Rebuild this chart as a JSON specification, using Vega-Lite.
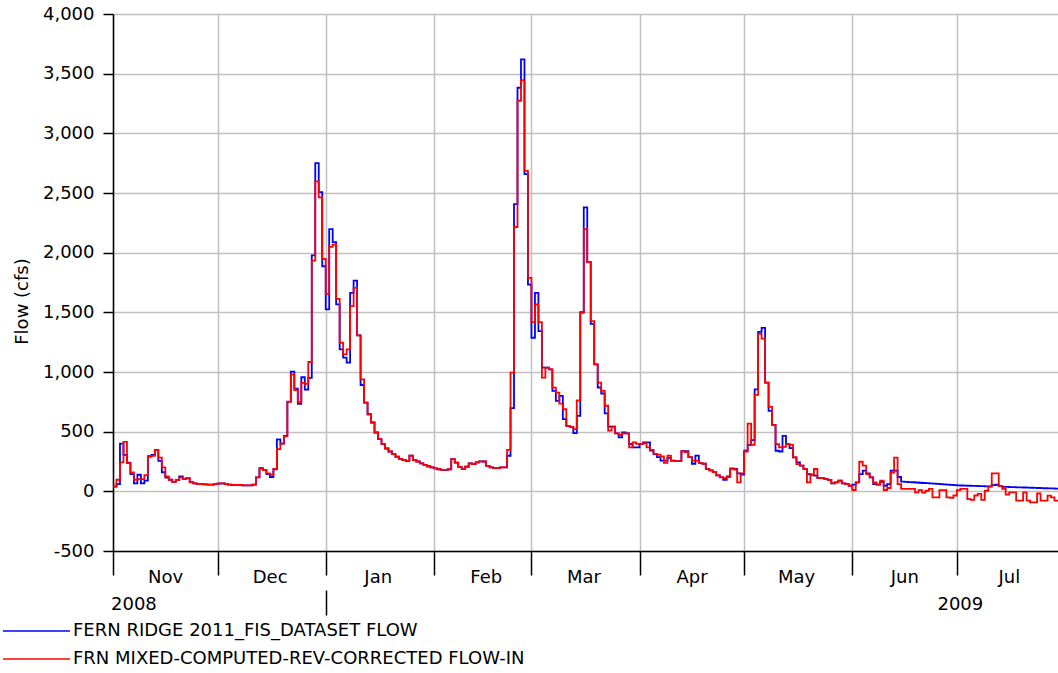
{
"width": 945, "height": 537,
"autosize": {"type": "none"},
"padding": {"left": 113, "top": 14, "right": 0, "bottom": 122},
"background": "white",
"config": {"view": {"stroke": null}, "font": "DejaVu Sans"},
"layer": [
{
"data": {"format": {"parse": {"d": "date:'%Y-%m-%d'"}}, "values": [
{"d":"2008-11-01","b":40,"r":42},{"d":"2008-11-02","b":60,"r":97},{"d":"2008-11-03","b":400,"r":242},{"d":"2008-11-04","b":305,"r":414},{"d":"2008-11-05","b":240,"r":236},{"d":"2008-11-06","b":145,"r":158},{"d":"2008-11-07","b":67,"r":97},{"d":"2008-11-08","b":139,"r":103},{"d":"2008-11-09","b":67,"r":103},{"d":"2008-11-10","b":89,"r":136},
{"d":"2008-11-11","b":295,"r":289},{"d":"2008-11-12","b":305,"r":297},{"d":"2008-11-13","b":347,"r":347},{"d":"2008-11-14","b":255,"r":283},{"d":"2008-11-15","b":160,"r":200},{"d":"2008-11-16","b":115,"r":125},{"d":"2008-11-17","b":97,"r":97},{"d":"2008-11-18","b":80,"r":80},{"d":"2008-11-19","b":95,"r":95},{"d":"2008-11-20","b":125,"r":117},
{"d":"2008-11-21","b":105,"r":103},{"d":"2008-11-22","b":110,"r":108},{"d":"2008-11-23","b":78,"r":75},{"d":"2008-11-24","b":67,"r":67},{"d":"2008-11-25","b":61,"r":61},{"d":"2008-11-26","b":61,"r":61},{"d":"2008-11-27","b":58,"r":58},{"d":"2008-11-28","b":56,"r":56},{"d":"2008-11-29","b":56,"r":56},{"d":"2008-11-30","b":61,"r":61},
{"d":"2008-12-01","b":65,"r":67},{"d":"2008-12-02","b":67,"r":67},{"d":"2008-12-03","b":61,"r":61},{"d":"2008-12-04","b":56,"r":56},{"d":"2008-12-05","b":53,"r":53},{"d":"2008-12-06","b":53,"r":53},{"d":"2008-12-07","b":53,"r":53},{"d":"2008-12-08","b":50,"r":50},{"d":"2008-12-09","b":50,"r":50},{"d":"2008-12-10","b":50,"r":50},
{"d":"2008-12-11","b":56,"r":56},{"d":"2008-12-12","b":117,"r":117},{"d":"2008-12-13","b":195,"r":190},{"d":"2008-12-14","b":178,"r":178},{"d":"2008-12-15","b":145,"r":150},{"d":"2008-12-16","b":120,"r":139},{"d":"2008-12-17","b":185,"r":189},{"d":"2008-12-18","b":436,"r":353},{"d":"2008-12-19","b":400,"r":400},{"d":"2008-12-20","b":465,"r":461},
{"d":"2008-12-21","b":752,"r":750},{"d":"2008-12-22","b":1003,"r":978},{"d":"2008-12-23","b":860,"r":848},{"d":"2008-12-24","b":734,"r":748},{"d":"2008-12-25","b":956,"r":909},{"d":"2008-12-26","b":853,"r":900},{"d":"2008-12-27","b":950,"r":1084},{"d":"2008-12-28","b":1978,"r":1934},{"d":"2008-12-29","b":2750,"r":2597},{"d":"2008-12-30","b":2507,"r":2463},
{"d":"2008-12-31","b":1886,"r":1947},{"d":"2009-01-01","b":1524,"r":1655},{"d":"2009-01-02","b":2198,"r":2048},{"d":"2009-01-03","b":2089,"r":2067},{"d":"2009-01-04","b":1566,"r":1613},{"d":"2009-01-05","b":1190,"r":1245},{"d":"2009-01-06","b":1120,"r":1148},{"d":"2009-01-07","b":1078,"r":1190},{"d":"2009-01-08","b":1663,"r":1552},{"d":"2009-01-09","b":1766,"r":1705},
{"d":"2009-01-10","b":1307,"r":1307},{"d":"2009-01-11","b":891,"r":939},{"d":"2009-01-12","b":744,"r":744},{"d":"2009-01-13","b":646,"r":646},{"d":"2009-01-14","b":577,"r":577},{"d":"2009-01-15","b":493,"r":493},{"d":"2009-01-16","b":437,"r":437},{"d":"2009-01-17","b":396,"r":396},{"d":"2009-01-18","b":359,"r":359},{"d":"2009-01-19","b":334,"r":334},
{"d":"2009-01-20","b":312,"r":312},{"d":"2009-01-21","b":290,"r":290},{"d":"2009-01-22","b":270,"r":270},{"d":"2009-01-23","b":262,"r":262},{"d":"2009-01-24","b":256,"r":256},{"d":"2009-01-25","b":300,"r":300},{"d":"2009-01-26","b":262,"r":262},{"d":"2009-01-27","b":250,"r":250},{"d":"2009-01-28","b":235,"r":235},{"d":"2009-01-29","b":222,"r":222},
{"d":"2009-01-30","b":210,"r":210},{"d":"2009-01-31","b":200,"r":200},{"d":"2009-02-01","b":192,"r":192},{"d":"2009-02-02","b":185,"r":185},{"d":"2009-02-03","b":180,"r":180},{"d":"2009-02-04","b":180,"r":180},{"d":"2009-02-05","b":185,"r":185},{"d":"2009-02-06","b":270,"r":270},{"d":"2009-02-07","b":240,"r":240},{"d":"2009-02-08","b":205,"r":205},
{"d":"2009-02-09","b":187,"r":187},{"d":"2009-02-10","b":206,"r":206},{"d":"2009-02-11","b":234,"r":234},{"d":"2009-02-12","b":228,"r":228},{"d":"2009-02-13","b":242,"r":242},{"d":"2009-02-14","b":251,"r":251},{"d":"2009-02-15","b":250,"r":250},{"d":"2009-02-16","b":214,"r":214},{"d":"2009-02-17","b":200,"r":200},{"d":"2009-02-18","b":195,"r":195},
{"d":"2009-02-19","b":195,"r":195},{"d":"2009-02-20","b":200,"r":200},{"d":"2009-02-21","b":200,"r":200},{"d":"2009-02-22","b":298,"r":348},{"d":"2009-02-23","b":697,"r":995},{"d":"2009-02-24","b":2407,"r":2215},{"d":"2009-02-25","b":3382,"r":3273},{"d":"2009-02-26","b":3619,"r":3446},{"d":"2009-02-27","b":2658,"r":2686},{"d":"2009-02-28","b":1733,"r":1789},
{"d":"2009-03-01","b":1287,"r":1418},{"d":"2009-03-02","b":1663,"r":1566},{"d":"2009-03-03","b":1343,"r":1418},{"d":"2009-03-04","b":1036,"r":953},{"d":"2009-03-05","b":1036,"r":1036},{"d":"2009-03-06","b":1022,"r":1022},{"d":"2009-03-07","b":841,"r":869},{"d":"2009-03-08","b":758,"r":827},{"d":"2009-03-09","b":800,"r":735},{"d":"2009-03-10","b":605,"r":688},
{"d":"2009-03-11","b":549,"r":549},{"d":"2009-03-12","b":540,"r":540},{"d":"2009-03-13","b":488,"r":521},{"d":"2009-03-14","b":632,"r":763},{"d":"2009-03-15","b":1502,"r":1496},{"d":"2009-03-16","b":2379,"r":2198},{"d":"2009-03-17","b":1922,"r":1922},{"d":"2009-03-18","b":1404,"r":1426},{"d":"2009-03-19","b":1064,"r":1064},{"d":"2009-03-20","b":870,"r":911},
{"d":"2009-03-21","b":820,"r":842},{"d":"2009-03-22","b":653,"r":717},{"d":"2009-03-23","b":542,"r":508},{"d":"2009-03-24","b":542,"r":542},{"d":"2009-03-25","b":486,"r":486},{"d":"2009-03-26","b":453,"r":472},{"d":"2009-03-27","b":494,"r":486},{"d":"2009-03-28","b":486,"r":486},{"d":"2009-03-29","b":397,"r":369},{"d":"2009-03-30","b":369,"r":411},
{"d":"2009-03-31","b":369,"r":397},{"d":"2009-04-01","b":397,"r":397},{"d":"2009-04-02","b":411,"r":403},{"d":"2009-04-03","b":411,"r":369},{"d":"2009-04-04","b":342,"r":347},{"d":"2009-04-05","b":314,"r":314},{"d":"2009-04-06","b":286,"r":308},{"d":"2009-04-07","b":258,"r":292},{"d":"2009-04-08","b":258,"r":239},{"d":"2009-04-09","b":280,"r":300},
{"d":"2009-04-10","b":258,"r":258},{"d":"2009-04-11","b":253,"r":253},{"d":"2009-04-12","b":253,"r":253},{"d":"2009-04-13","b":336,"r":336},{"d":"2009-04-14","b":336,"r":328},{"d":"2009-04-15","b":286,"r":286},{"d":"2009-04-16","b":231,"r":258},{"d":"2009-04-17","b":300,"r":258},{"d":"2009-04-18","b":236,"r":236},{"d":"2009-04-19","b":231,"r":231},
{"d":"2009-04-20","b":189,"r":189},{"d":"2009-04-21","b":175,"r":175},{"d":"2009-04-22","b":161,"r":161},{"d":"2009-04-23","b":133,"r":133},{"d":"2009-04-24","b":117,"r":119},{"d":"2009-04-25","b":97,"r":111},{"d":"2009-04-26","b":125,"r":119},{"d":"2009-04-27","b":192,"r":189},{"d":"2009-04-28","b":187,"r":183},{"d":"2009-04-29","b":150,"r":75},
{"d":"2009-04-30","b":140,"r":150},{"d":"2009-05-01","b":340,"r":334},{"d":"2009-05-02","b":390,"r":568},{"d":"2009-05-03","b":429,"r":390},{"d":"2009-05-04","b":855,"r":808},{"d":"2009-05-05","b":1337,"r":1320},{"d":"2009-05-06","b":1370,"r":1279},{"d":"2009-05-07","b":911,"r":911},{"d":"2009-05-08","b":674,"r":708},{"d":"2009-05-09","b":557,"r":557},
{"d":"2009-05-10","b":340,"r":396},{"d":"2009-05-11","b":334,"r":368},{"d":"2009-05-12","b":465,"r":373},{"d":"2009-05-13","b":396,"r":396},{"d":"2009-05-14","b":362,"r":390},{"d":"2009-05-15","b":284,"r":284},{"d":"2009-05-16","b":242,"r":228},{"d":"2009-05-17","b":215,"r":215},{"d":"2009-05-18","b":187,"r":187},{"d":"2009-05-19","b":145,"r":75},
{"d":"2009-05-20","b":139,"r":139},{"d":"2009-05-21","b":131,"r":187},{"d":"2009-05-22","b":111,"r":111},{"d":"2009-05-23","b":111,"r":111},{"d":"2009-05-24","b":103,"r":103},{"d":"2009-05-25","b":95,"r":95},{"d":"2009-05-26","b":67,"r":67},{"d":"2009-05-27","b":75,"r":75},{"d":"2009-05-28","b":89,"r":89},{"d":"2009-05-29","b":67,"r":67},
{"d":"2009-05-30","b":61,"r":61},{"d":"2009-05-31","b":47,"r":47},{"d":"2009-06-01","b":56,"r":11},{"d":"2009-06-02","b":75,"r":75},{"d":"2009-06-03","b":145,"r":248},{"d":"2009-06-04","b":173,"r":215},{"d":"2009-06-05","b":150,"r":145},{"d":"2009-06-06","b":117,"r":117},{"d":"2009-06-07","b":61,"r":75},{"d":"2009-06-08","b":56,"r":56},
{"d":"2009-06-09","b":80,"r":89},{"d":"2009-06-10","b":47,"r":11},{"d":"2009-06-11","b":60,"r":28},{"d":"2009-06-12","b":173,"r":158},{"d":"2009-06-13","b":173,"r":283},{"d":"2009-06-14","b":120,"r":60},{"d":"2009-06-15","b":82,"r":20},{"d":"2009-06-16","b":80,"r":20},{"d":"2009-06-17","b":78,"r":20},{"d":"2009-06-18","b":76,"r":20},
{"d":"2009-06-19","b":74,"r":-8},{"d":"2009-06-20","b":72,"r":10},{"d":"2009-06-21","b":70,"r":-10},{"d":"2009-06-22","b":68,"r":5},{"d":"2009-06-23","b":66,"r":20},{"d":"2009-06-24","b":64,"r":-50},{"d":"2009-06-25","b":62,"r":-50},{"d":"2009-06-26","b":60,"r":10},{"d":"2009-06-27","b":58,"r":10},{"d":"2009-06-28","b":56,"r":-50},
{"d":"2009-06-29","b":54,"r":-55},{"d":"2009-06-30","b":52,"r":-35},{"d":"2009-07-01","b":50,"r":10},{"d":"2009-07-02","b":49,"r":20},{"d":"2009-07-03","b":48,"r":20},{"d":"2009-07-04","b":47,"r":-65},{"d":"2009-07-05","b":46,"r":-72},{"d":"2009-07-06","b":45,"r":-35},{"d":"2009-07-07","b":44,"r":-22},{"d":"2009-07-08","b":43,"r":-72},
{"d":"2009-07-09","b":42,"r":5},{"d":"2009-07-10","b":41,"r":40},{"d":"2009-07-11","b":52,"r":150},{"d":"2009-07-12","b":55,"r":150},{"d":"2009-07-13","b":45,"r":45},{"d":"2009-07-14","b":38,"r":20},{"d":"2009-07-15","b":37,"r":-28},{"d":"2009-07-16","b":36,"r":-8},{"d":"2009-07-17","b":35,"r":-8},{"d":"2009-07-18","b":34,"r":-78},
{"d":"2009-07-19","b":33,"r":-78},{"d":"2009-07-20","b":32,"r":-8},{"d":"2009-07-21","b":31,"r":-78},{"d":"2009-07-22","b":30,"r":-92},{"d":"2009-07-23","b":29,"r":-92},{"d":"2009-07-24","b":28,"r":-18},{"d":"2009-07-25","b":27,"r":-78},{"d":"2009-07-26","b":26,"r":-78},{"d":"2009-07-27","b":25,"r":-36},{"d":"2009-07-28","b":24,"r":-50},
{"d":"2009-07-29","b":23,"r":-78},{"d":"2009-07-30","b":23,"r":-78}
]},
"transform": [{"fold": ["b", "r"], "as": ["series", "flow"]}],
"mark": {"type": "line", "interpolate": "step-after", "strokeWidth": 1.8},
"encoding": {
"x": {"field": "d", "type": "temporal",
 "scale": {"domain": [{"year": 2008, "month": 11, "date": 1}, {"year": 2009, "month": 7, "date": 30}]},
 "axis": {"title": null, "orient": "bottom",
  "values": [{"year":2008,"month":11,"date":1},{"year":2008,"month":12,"date":1},{"year":2009,"month":1,"date":1},{"year":2009,"month":2,"date":1},{"year":2009,"month":3,"date":1},{"year":2009,"month":4,"date":1},{"year":2009,"month":5,"date":1},{"year":2009,"month":6,"date":1},{"year":2009,"month":7,"date":1}],
  "format": "%b", "labelAlign": "center", "labelOffset": 52, "labelPadding": -7, "labelBaseline": "top",
  "labelFontSize": 18, "labelFont": "DejaVu Sans", "labelColor": "black", "labelFlush": false, "labelOverlap": false,
  "tickSize": 24, "tickColor": "black", "tickWidth": 1.5, "domainColor": "black", "domainWidth": 1.5,
  "grid": true, "gridColor": "#c0c0c0", "gridWidth": 1.5}},
"y": {"field": "flow", "type": "quantitative",
 "scale": {"domain": [-500, 4000], "nice": false, "zero": false},
 "axis": {"values": [-500,0,500,1000,1500,2000,2500,3000,3500,4000],
  "labelExpr": "replace(format(datum.value, ',d'), '\u2212', '-')",
  "labelFontSize": 18, "labelFont": "DejaVu Sans", "labelColor": "black", "labelPadding": 9,
  "tickSize": 10, "tickColor": "black", "tickWidth": 1.5, "domainColor": "black", "domainWidth": 1.5,
  "grid": true, "gridColor": "#c0c0c0", "gridWidth": 1.5,
  "title": "Flow (cfs)", "titleFontSize": 18, "titleFont": "DejaVu Sans", "titleFontWeight": "normal", "titleColor": "black",
  "titleX": -91, "titleY": 287, "titleAlign": "center", "titleBaseline": "middle", "titleAngle": 270}},
"color": {"field": "series", "type": "nominal",
 "scale": {"domain": ["b", "r"], "range": ["#0000ff", "#ff0000"]},
 "legend": {"orient": "none", "legendX": -85.5, "legendY": 608, "title": null, "direction": "vertical",
  "symbolType": "M-33.5,0H33.5", "symbolSize": 4, "symbolStrokeWidth": 1.5,
  "labelFontSize": 18, "labelFont": "DejaVu Sans", "labelColor": "black", "labelOffset": 27.5, "labelLimit": 0,
  "rowPadding": 10, "padding": 0,
  "labelExpr": "datum.label == 'b' ? 'FERN RIDGE 2011_FIS_DATASET FLOW' : 'FRN MIXED-COMPUTED-REV-CORRECTED FLOW-IN'"}}
}
},
{
"data": {"format": {"parse": {"d": "date:'%Y-%m-%d'"}}, "values": [{"d": "2008-11-07", "t": "2008"}, {"d": "2009-07-02", "t": "2009"}]},
"mark": {"type": "text", "fontSize": 18, "font": "DejaVu Sans", "baseline": "alphabetic", "align": "center", "dy": 59, "color": "black"},
"encoding": {
"x": {"field": "d", "type": "temporal",
 "axis": {"title": null, "orient": "bottom", "offset": 39, "values": [{"year": 2009, "month": 1, "date": 1}],
  "labels": false, "domain": false, "grid": false, "ticks": true, "tickSize": 25, "tickColor": "black", "tickWidth": 1.5}},
"y": {"datum": -500, "type": "quantitative"},
"text": {"field": "t"}
}
}
],
"resolve": {"axis": {"x": "independent"}}
}
